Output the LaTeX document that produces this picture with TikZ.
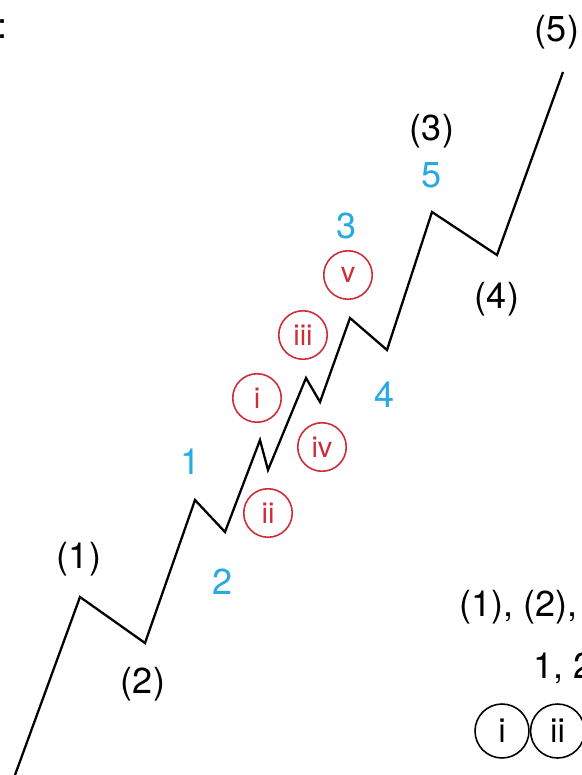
\documentclass[tikz,border=0pt]{standalone}
\usepackage{fontspec}
\setmainfont{TeX Gyre Heros}
\usetikzlibrary{positioning}
\definecolor{waveblue}{RGB}{40,170,225}
\definecolor{wavered}{RGB}{205,45,55}

\begin{document}
\begin{tikzpicture}[x=0.02cm,y=-0.02cm,font=\fontsize{20.5}{24}\selectfont,
   lbl/.style={inner sep=0pt},
   sub/.style={inner sep=0pt,text=waveblue},
   rn/.style={draw=wavered,text=wavered,line width=0.9pt,circle,inner sep=0pt,
              minimum size=0.97cm,font=\fontsize{16.5}{18}\selectfont},
   key/.style={draw,line width=0.9pt,circle,inner sep=0pt,
              minimum size=1.08cm,font=\fontsize{19}{21}\selectfont}]
  \clip (0,0) rectangle (582,775);
  % wave points
  \coordinate (s) at (15,775);
  \coordinate (P1) at (80,597);
  \coordinate (P2) at (145,643);
  \coordinate (p1) at (195,500);
  \coordinate (p2) at (225,532);
  \coordinate (ri) at (260,440);
  \coordinate (rii) at (268,470);
  \coordinate (riii) at (306,378);
  \coordinate (riv) at (320,402);
  \coordinate (p3) at (350,318);
  \coordinate (p4) at (387,350);
  \coordinate (P3) at (432,212);
  \coordinate (P4) at (497,255);
  \coordinate (P5) at (563,72);
  \draw[line width=1.3pt] (s)--(P1)--(P2)--(p1)--(p2)--(ri)--(rii)--(riii)--(riv)
     --(p3)--(p4)--(P3)--(P4)--(P5);
  % labels
  \node[lbl] (c) at (3,29) {:};
  \node[lbl] (l1) at (79,559) {(1)};
  \node[lbl] (l2) at (143,684) {(2)};
  \node[lbl] (l3) at (432,131) {(3)};
  \node[lbl] (l4) at (497,299) {(4)};
  \node[lbl] (l5) at (557,32) {(5)};
  \node[sub] (b1) at (191,462) {1};
  \node[sub] (b2) at (223,582) {2};
  \node[sub] (b3) at (347,226) {3};
  \node[sub] (b4) at (385,395) {4};
  \node[sub] (b5) at (432,175) {5};
  \node[rn] (ci) at (257,398) {i};
  \node[rn] (cii) at (268,513) {ii};
  \node[rn] (ciii) at (303,335) {iii};
  \node[rn] (civ) at (322,447) {iv};
  \node[rn] (cv) at (348,275) {v};
  % key
  \node[lbl,anchor=west] (k1) at (459,607) {(1), (2),};
  \node[lbl,anchor=west] (k2) at (533,668) {1, 2};
  \node[key] (ki) at (502,731) {i};
  \node[key,right=0pt of ki] (kii) {ii};
\end{tikzpicture}
\end{document}
